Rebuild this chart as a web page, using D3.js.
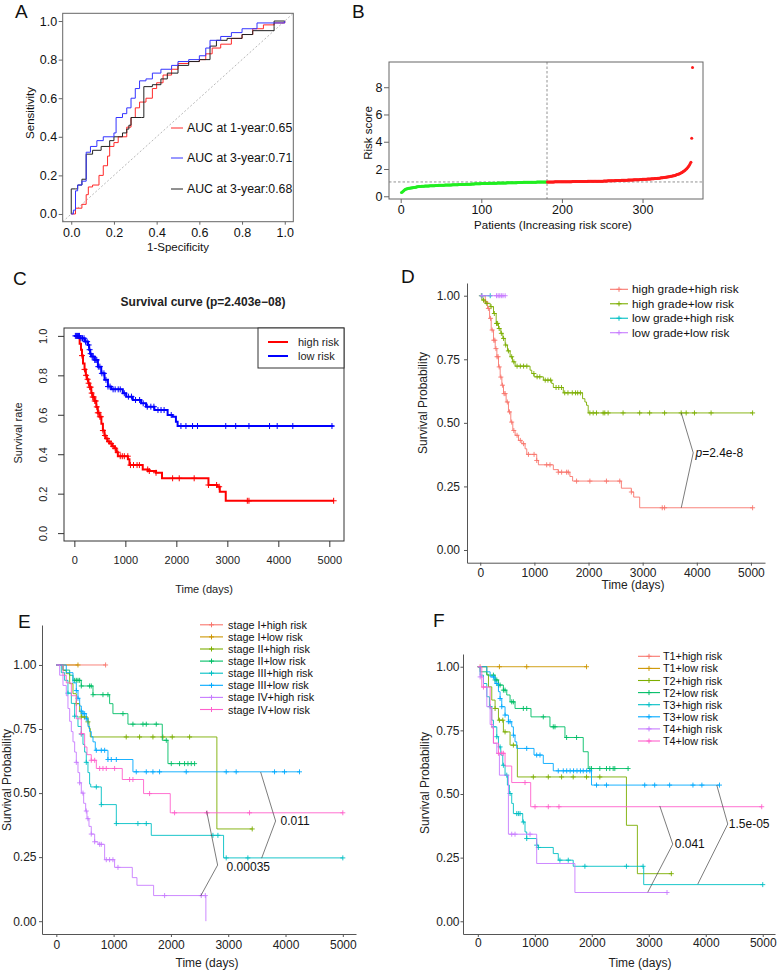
<!DOCTYPE html>
<html><head><meta charset="utf-8">
<script src="https://cdn.jsdelivr.net/npm/d3@7"></script>
<style>body{margin:0;background:#fff}</style>
</head><body><svg id="c" width="778" height="970" style="background:#fff"></svg>
<script>
// ---------------- DATA ----------------
// Panel A: ROC curves [1-specificity, sensitivity]
const rocLabels = ["AUC at 1-year:0.65","AUC at 3-year:0.71","AUC at 3-year:0.68"];
const roc1 = [[0,0],[0.02,0.03],[0.05,0.05],[0.07,0.1],[0.08,0.14],[0.1,0.15],[0.13,0.2],[0.15,0.25],[0.17,0.3],[0.18,0.35],[0.2,0.37],[0.22,0.4],[0.26,0.45],[0.28,0.5],[0.3,0.55],[0.32,0.58],[0.35,0.6],[0.38,0.65],[0.4,0.68],[0.43,0.72],[0.47,0.75],[0.5,0.78],[0.55,0.79],[0.6,0.8],[0.63,0.83],[0.66,0.86],[0.7,0.88],[0.75,0.91],[0.8,0.93],[0.85,0.96],[0.9,0.98],[0.95,0.99],[1,1]];
const roc3 = [[0,0],[0.01,0.02],[0.02,0.12],[0.03,0.15],[0.05,0.17],[0.07,0.18],[0.07,0.32],[0.09,0.35],[0.12,0.38],[0.15,0.4],[0.2,0.42],[0.21,0.5],[0.24,0.52],[0.26,0.55],[0.28,0.6],[0.3,0.65],[0.32,0.69],[0.35,0.7],[0.38,0.73],[0.42,0.75],[0.47,0.77],[0.5,0.79],[0.55,0.8],[0.6,0.82],[0.63,0.86],[0.65,0.9],[0.7,0.92],[0.75,0.94],[0.8,0.96],[0.87,0.99],[1,1]];
const roc3b = [[0,0],[0,0.13],[0.02,0.13],[0.03,0.15],[0.05,0.18],[0.07,0.18],[0.07,0.31],[0.1,0.33],[0.14,0.35],[0.18,0.38],[0.2,0.4],[0.24,0.42],[0.26,0.44],[0.27,0.46],[0.28,0.5],[0.33,0.5],[0.34,0.66],[0.38,0.67],[0.42,0.7],[0.45,0.73],[0.5,0.77],[0.55,0.79],[0.6,0.8],[0.65,0.87],[0.68,0.9],[0.73,0.91],[0.8,0.93],[0.85,0.95],[0.95,0.97],[0.95,1.0],[1,1]];
const rocTicks = [0,0.2,0.4,0.6,0.8,1.0];

// Panel B: sorted risk scores (one per patient)
const riskScores = [
0.27,0.31,0.36,0.42,0.47,0.51,0.53,0.55,0.57,0.58,
0.59,0.60,0.61,0.62,0.63,0.64,0.65,0.66,0.67,0.69,
0.70,0.71,0.71,0.72,0.72,0.73,0.73,0.74,0.74,0.75,
0.75,0.75,0.76,0.76,0.76,0.77,0.77,0.77,0.78,0.78,
0.78,0.78,0.79,0.79,0.79,0.79,0.80,0.80,0.80,0.80,
0.81,0.81,0.81,0.81,0.82,0.82,0.82,0.82,0.82,0.83,
0.83,0.83,0.83,0.84,0.84,0.84,0.84,0.85,0.85,0.85,
0.85,0.86,0.86,0.86,0.86,0.87,0.87,0.87,0.87,0.88,
0.88,0.88,0.88,0.89,0.89,0.89,0.89,0.90,0.90,0.90,
0.90,0.91,0.91,0.91,0.91,0.92,0.92,0.92,0.92,0.93,
0.93,0.93,0.93,0.93,0.94,0.94,0.94,0.94,0.94,0.95,
0.95,0.95,0.95,0.95,0.96,0.96,0.96,0.96,0.96,0.97,
0.97,0.97,0.97,0.97,0.97,0.98,0.98,0.98,0.98,0.98,
0.98,0.99,0.99,0.99,0.99,0.99,0.99,1.00,1.00,1.00,
1.00,1.00,1.00,1.00,1.01,1.01,1.01,1.01,1.01,1.01,
1.01,1.02,1.02,1.02,1.02,1.02,1.02,1.02,1.02,1.03,
1.03,1.03,1.03,1.03,1.03,1.03,1.03,1.03,1.04,1.04,
1.04,1.04,1.04,1.04,1.04,1.04,1.04,1.04,1.04,1.05,1.05,
1.05,1.05,1.05,1.05,1.05,1.05,1.05,1.05,1.05,1.06,
1.06,1.06,1.06,1.06,1.06,1.06,1.06,1.06,1.06,1.06,
1.06,1.07,1.07,1.07,1.07,1.07,1.07,1.07,1.07,1.07,
1.07,1.08,1.08,1.08,1.08,1.08,1.08,1.08,1.08,1.08,
1.08,1.09,1.09,1.09,1.09,1.09,1.09,1.09,1.09,1.09,
1.10,1.10,1.10,1.10,1.10,1.10,1.10,1.10,1.10,1.10,
1.10,1.11,1.11,1.11,1.11,1.11,1.11,1.11,1.11,1.11,
1.12,1.12,1.12,1.12,1.12,1.13,1.13,1.13,1.13,1.13,
1.14,1.14,1.14,1.14,1.15,1.15,1.15,1.15,1.16,1.16,
1.16,1.16,1.17,1.17,1.17,1.17,1.18,1.18,1.18,1.18,
1.19,1.19,1.19,1.20,1.20,1.20,1.20,1.21,1.21,1.21,
1.21,1.22,1.22,1.22,1.22,1.23,1.23,1.23,1.24,1.24,
1.24,1.25,1.25,1.25,1.26,1.26,1.26,1.27,1.27,1.28,
1.28,1.29,1.29,1.30,1.30,1.31,1.31,1.32,1.33,1.33,
1.34,1.35,1.35,1.36,1.37,1.38,1.39,1.40,1.41,1.42,
1.43,1.44,1.45,1.46,1.47,1.48,1.50,1.51,1.53,1.55,
1.57,1.59,1.61,1.63,1.66,1.69,1.72,1.75,1.79,1.83,
1.88,1.93,1.98,2.04,2.11,2.19,2.28,2.38,2.49,
4.25,9.45];
const riskCut = 181; // number of low-risk patients
const riskXTicks = [0,100,200,300];
const riskYTicks = [0,2,4,6,8];

// Panel C: KM [time, survival] steps and censor times
const cHighSteps = [[0,1],[60,0.99],[104,0.96],[130,0.93],[150,0.9],[170,0.86],[200,0.83],[225,0.8],[247,0.78],[275,0.76],[300,0.74],[332,0.71],[360,0.69],[395,0.67],[430,0.64],[460,0.61],[495,0.59],[530,0.555],[560,0.52],[590,0.495],[612,0.48],[650,0.465],[690,0.455],[740,0.44],[788,0.43],[820,0.41],[853,0.39],[1050,0.375],[1081,0.345],[1341,0.323],[1440,0.315],[1602,0.306],[1719,0.278],[2630,0.244],[2806,0.235],[2852,0.21],[2969,0.164],[5085,0.164]];
const cHighCens = [150,200,230,260,280,300,320,340,360,380,400,420,440,460,480,500,520,560,600,640,680,720,760,800,850,900,940,980,1048,1100,1160,1230,1276,1439,1470,1602,1927,2057,2350,2630,2790,2840,3392,3424,5085];
const cLowSteps = [[0,1],[104,0.988],[202,0.971],[267,0.954],[290,0.93],[310,0.91],[332,0.895],[397,0.878],[462,0.844],[527,0.81],[592,0.777],[658,0.743],[723,0.729],[950,0.709],[1016,0.692],[1146,0.675],[1309,0.658],[1406,0.641],[1569,0.624],[1829,0.599],[1927,0.59],[1992,0.565],[2025,0.543],[5085,0.543]];
const cLowCens = [20,40,60,80,100,130,160,190,220,250,280,300,320,350,370,400,420,440,470,500,540,580,620,660,700,760,800,860,900,980,1060,1120,1200,1280,1350,1430,1500,1560,1640,1700,1760,1900,2090,2188,2318,2415,2969,3164,3424,3828,3978,4284,5052];
const cTitle = "Survival curve (p=2.403e\u221208)";
const cLegend = ["high risk","low risk"];
const timeTicks = [0,1000,2000,3000,4000,5000];
const cYTicks = [0,0.2,0.4,0.6,0.8,1.0];
const probTicks = [0,0.25,0.5,0.75,1];

// Panel D
const dNames = ["high grade+high risk","high grade+low risk","low grade+high risk","low grade+low risk"];
const dSteps = [
 [[0,1],[92,0.976],[135,0.95],[172,0.911],[202,0.865],[245,0.825],[276,0.792],[307,0.76],[337,0.72],[368,0.68],[399,0.648],[429,0.615],[478,0.582],[521,0.543],[564,0.503],[601,0.47],[644,0.451],[706,0.431],[767,0.418],[828,0.398],[859,0.376],[1043,0.352],[1074,0.335],[1350,0.316],[1442,0.306],[1656,0.289],[1706,0.271],[2607,0.243],[2791,0.228],[2834,0.208],[2945,0.166],[5031,0.166]],
 [[0,1],[31,0.983],[92,0.97],[184,0.957],[245,0.93],[294,0.891],[337,0.871],[380,0.852],[417,0.832],[460,0.806],[503,0.783],[552,0.76],[595,0.74],[644,0.723],[920,0.707],[951,0.694],[994,0.681],[1166,0.668],[1319,0.655],[1350,0.639],[1534,0.618],[1890,0.595],[1933,0.582],[1963,0.569],[1994,0.539],[5031,0.539]],
 [[0,1],[215,1]],
 [[0,1],[460,1]]
];
const dCens = [
 [100,150,190,220,250,270,290,310,330,350,380,410,440,460,500,540,580,620,680,740,800,890,994,1043,1227,1288,1442,1503,1595,1626,1779,2025,2331,2577,2791,3362,3405,5031],
 [20,60,120,200,260,300,320,350,390,430,470,520,580,620,680,740,800,860,990,1050,1100,1200,1250,1300,1400,1450,1500,1560,1620,1700,1760,1800,1850,2025,2086,2147,2270,2300,2362,2638,2945,3129,3405,3712,3804,3957,4264,5031],
 [30,184],
 [30,300,330,360,390,420,460]
];
const dP = "=2.4e-8";

// Panel E
const eNames = ["stage I+high risk","stage I+low risk","stage II+high risk","stage II+low risk","stage III+high risk","stage III+low risk","stage IV+high risk","stage IV+low risk"];
const eSteps = [
 [[0,1],[860,1]],
 [[0,1],[378,1]],
 [[0,1],[116,0.979],[174,0.966],[233,0.927],[291,0.888],[349,0.849],[407,0.817],[436,0.797],[552,0.778],[570,0.752],[593,0.719],[2802,0.36],[3419,0.36]],
 [[0,1],[116,0.98],[233,0.96],[291,0.94],[436,0.918],[640,0.884],[930,0.849],[988,0.81],[1250,0.769],[1849,0.706],[1948,0.615],[2413,0.615]],
 [[0,1],[87,0.97],[145,0.94],[203,0.89],[262,0.85],[320,0.8],[378,0.76],[436,0.73],[465,0.69],[494,0.66],[523,0.62],[552,0.58],[581,0.535],[600,0.524],[785,0.455],[1047,0.381],[1657,0.335],[2919,0.247],[5000,0.247]],
 [[0,1],[174,0.97],[291,0.93],[349,0.9],[378,0.87],[407,0.84],[436,0.82],[465,0.81],[523,0.79],[552,0.76],[581,0.74],[610,0.72],[640,0.7],[680,0.667],[901,0.631],[1337,0.583],[4244,0.583]],
 [[0,1],[58,0.96],[116,0.92],[174,0.88],[203,0.83],[233,0.78],[262,0.74],[291,0.7],[320,0.66],[349,0.62],[378,0.58],[407,0.54],[436,0.5],[477,0.46],[512,0.43],[535,0.4],[570,0.37],[610,0.34],[669,0.31],[727,0.3],[843,0.24],[1017,0.21],[1326,0.17],[1407,0.14],[1698,0.1],[2610,0]],
 [[0,1],[116,0.96],[174,0.93],[262,0.88],[349,0.79],[436,0.732],[494,0.68],[535,0.65],[610,0.628],[698,0.596],[1151,0.553],[1523,0.498],[1988,0.423],[5000,0.423]]
];
const eCens = [
 [860],
 [378],
 [349,436,494,552,1220,1453,1686,1860,2023,2326,3419],
 [320,349,378,407,436,581,610,640,814,901,1163,1337,1512,1570,1744,1919,2006,2151,2238,2297,2355,2413],
 [203,320,436,523,698,785,1047,1424,1570,2733,2820,2965,3343,5000],
 [349,378,436,465,494,523,698,785,843,901,959,1047,1395,1570,1686,1802,2267,2965,3139,3808,3982,4244],
 [349,407,465,523,552,610,669,756,785,872,930,988,1076,1890,2529,2600],
 [436,610,669,756,814,872,1017,1279,1337,1628,2064,2628,3372,5000]
];
const eP = ["0.011","0.00035"];

// Panel F
const fNames = ["T1+high risk","T1+low risk","T2+high risk","T2+low risk","T3+high risk","T3+low risk","T4+high risk","T4+low risk"];
const fSteps = [
 [[0,1],[60,1]],
 [[0,1],[1908,1]],
 [[0,1],[158,0.97],[187,0.921],[245,0.869],[303,0.836],[362,0.79],[449,0.744],[566,0.692],[694,0.567],[2608,0.377],[2800,0.187],[3396,0.187]],
 [[0,1],[41,0.98],[158,0.967],[303,0.948],[362,0.928],[449,0.908],[508,0.889],[566,0.862],[653,0.836],[933,0.803],[1266,0.764],[1529,0.722],[1850,0.666],[1937,0.6],[2637,0.6]],
 [[0,1],[41,0.967],[99,0.934],[158,0.882],[204,0.843],[245,0.79],[274,0.764],[333,0.725],[362,0.685],[403,0.653],[438,0.613],[478,0.574],[519,0.535],[554,0.502],[595,0.463],[624,0.423],[788,0.39],[828,0.351],[858,0.325],[1033,0.299],[1062,0.29],[1324,0.266],[1412,0.24],[1674,0.216],[2911,0.144],[5000,0.144]],
 [[0,1],[158,0.98],[216,0.96],[303,0.934],[362,0.902],[391,0.875],[420,0.843],[478,0.81],[537,0.784],[595,0.764],[624,0.731],[653,0.705],[683,0.679],[986,0.653],[1149,0.62],[1324,0.591],[1995,0.535],[4241,0.535]],
 [[0,1],[41,0.96],[99,0.921],[158,0.843],[216,0.773],[274,0.699],[333,0.659],[379,0.574],[537,0.342],[1033,0.227],[1704,0.113],[3320,0.113]],
 [[0,1],[70,0.92],[216,0.84],[245,0.76],[274,0.7],[362,0.66],[478,0.61],[595,0.545],[928,0.45],[4982,0.45]]
];
const fCens = [
 [40],
 [379,858,1908],
 [303,379,438,478,624,974,1237,1470,1674,1908,2141,3396],
 [274,303,333,362,391,449,478,595,624,799,858,1149,1324,1354,1558,1733,1966,1995,2141,2258,2316,2375,2404,2637],
 [216,274,333,391,449,508,566,683,712,741,799,858,1033,1062,1441,1587,1879,2608,2900,5000],
 [274,333,391,420,478,537,566,624,858,1033,1091,1412,1500,1560,1620,1680,1740,1800,1850,1910,1966,2083,2258,2929,3104,3366,3775,3932,4241],
 [41,595,653,916,3320],
 [99,362,420,449,828,1004,1237,1424,4982]
];
const fP = ["0.041","1.5e-05"];

const hue4 = ["#F8766D","#7CAE00","#00BFC4","#C77CFF"];
const hue8 = ["#F8766D","#CD9600","#7CAE00","#00BE67","#00BFC4","#00A9FF","#C77CFF","#FF61CC"];

// ---------------- DRAWING ----------------
const FONT = '"Liberation Sans", Arial, Helvetica, sans-serif';
const intFmt = d3.format('d');
const svg = d3.select('#c');
svg.append('rect').attr('width',778).attr('height',970).attr('fill','#fff');

function txt(x,y,s,opt={}) {
  const t = svg.append('text').attr('x',x).attr('y',y).text(s)
    .attr('font-family',FONT).attr('font-size',opt.fs||12).attr('fill',opt.fill||'#111')
    .attr('text-anchor',opt.anchor||'middle').attr('dominant-baseline',opt.base||'central');
  if (opt.rot) t.attr('transform',`rotate(${opt.rot},${x},${y})`);
  if (opt.bold) t.attr('font-weight','bold');
  return t;
}
function styleAxis(g, fs, tc, lc, keepDomain) {
  g.attr('font-family',FONT).attr('font-size',fs);
  g.selectAll('text').attr('fill',tc);
  g.selectAll('line').attr('stroke',lc);
  if (keepDomain) g.select('.domain').attr('stroke',lc); else g.select('.domain').remove();
}
function survAt(steps,t){ let s=steps[0][1]; for(const p of steps){ if(p[0]<=t) s=p[1]; else break; } return s; }
function drawKM(g,x,y,steps,cens,color,lw,ms,mw){
  g.append('path').datum(steps).attr('fill','none').attr('stroke',color).attr('stroke-width',lw)
    .attr('d', d3.line().x(d=>x(d[0])).y(d=>y(d[1])).curve(d3.curveStepAfter));
  const m = g.append('g').attr('stroke',color).attr('stroke-width',mw);
  cens.forEach(t=>{ const cx=x(t), cy=y(survAt(steps,t));
    m.append('path').attr('d',`M${cx-ms},${cy}H${cx+ms}M${cx},${cy-ms}V${cy+ms}`); });
}
function bracket(x,y,pts){
  svg.append('path').datum(pts).attr('fill','none').attr('stroke','#444').attr('stroke-width',0.7)
    .attr('d', d3.line().x(d=>x(d[0])).y(d=>y(d[1])));
}
function ggLegend(names, colors, x0, x1, tx, y0, dy, fs){
  names.forEach((n,i)=>{
    const y = y0 + i*dy;
    svg.append('line').attr('x1',x0).attr('x2',x1).attr('y1',y).attr('y2',y).attr('stroke',colors[i]).attr('stroke-width',1.1);
    const cx=(x0+x1)/2;
    svg.append('path').attr('d',`M${cx-2.5},${y}H${cx+2.5}M${cx},${y-2.5}V${y+2.5}`).attr('stroke',colors[i]).attr('stroke-width',1);
    txt(tx,y,n,{fs:fs,anchor:'start',fill:'#111'});
  });
}

// Panel labels
txt(15,17.5,"A",{fs:19,anchor:'start',base:'auto'});
txt(352,17.5,"B",{fs:19,anchor:'start',base:'auto'});
txt(13,285,"C",{fs:19,anchor:'start',base:'auto'});
txt(401,283,"D",{fs:19,anchor:'start',base:'auto'});
txt(18,628,"E",{fs:19,anchor:'start',base:'auto'});
txt(433,627,"F",{fs:19,anchor:'start',base:'auto'});

// ---- Panel A ----
{
  const x = d3.scaleLinear([-0.04,1.04],[62.7,293.3]);
  const y = d3.scaleLinear([-0.04,1.04],[221.7,13.3]);
  const g = svg.append('g');
  g.append('line').attr('x1',x(-0.04)).attr('y1',y(-0.04)).attr('x2',x(1.04)).attr('y2',y(1.04))
    .attr('stroke','#999').attr('stroke-width',0.7).attr('stroke-dasharray','2,2');
  const line = d3.line().x(d=>x(d[0])).y(d=>y(d[1])).curve(d3.curveStepAfter);
  [[roc1,'#ff2a2a'],[roc3b,'#222'],[roc3,'#3333ff']].forEach(([d,c])=>{
    g.append('path').datum(d).attr('d',line).attr('fill','none').attr('stroke',c).attr('stroke-width',1);
  });
  g.append('rect').attr('x',62.7).attr('y',13.3).attr('width',230.6).attr('height',208.4).attr('fill','none').attr('stroke','#666').attr('stroke-width',1);
  const ax = svg.append('g').attr('transform','translate(0,221.7)')
    .call(d3.axisBottom(x).tickValues(rocTicks).tickFormat(d3.format('.1f')).tickSize(3).tickPadding(3));
  styleAxis(ax,12.5,'#111','#666');
  const ay = svg.append('g').attr('transform','translate(62.7,0)')
    .call(d3.axisLeft(y).tickValues(rocTicks).tickFormat(d3.format('.1f')).tickSize(4).tickPadding(1.5));
  styleAxis(ay,12.5,'#111','#666');
  txt(30,113,"Sensitivity",{fs:11.5,rot:-90});
  txt(178,247,"1-Specificity",{fs:11.5});
  const cols = ['#ff2a2a','#3333ff','#222'];
  [128,158,189].forEach((yy,i)=>{
    svg.append('line').attr('x1',171).attr('x2',183).attr('y1',yy).attr('y2',yy).attr('stroke',cols[i]).attr('stroke-width',1);
    txt(187,yy,rocLabels[i],{fs:12.3,anchor:'start'});
  });
}

// ---- Panel B ----
{
  const x = d3.scaleLinear([-14.5,375],[389,703]);
  const y = d3.scaleLinear([-0.2,9.85],[199,62]);
  const med = (riskScores[riskCut-1]+riskScores[riskCut])/2;
  svg.append('line').attr('x1',389).attr('x2',703).attr('y1',y(med)).attr('y2',y(med)).attr('stroke','#777').attr('stroke-width',0.8).attr('stroke-dasharray','2.5,2');
  svg.append('line').attr('x1',x(riskCut+0.5)).attr('x2',x(riskCut+0.5)).attr('y1',62).attr('y2',199).attr('stroke','#777').attr('stroke-width',0.8).attr('stroke-dasharray','2.5,2');
  svg.append('g').selectAll('circle').data(riskScores).join('circle')
    .attr('cx',(d,i)=>x(i+1)).attr('cy',d=>y(d)).attr('r',1.5)
    .attr('fill',(d,i)=> i<riskCut ? '#22ee22' : '#ff1a1a');
  svg.append('rect').attr('x',389).attr('y',62).attr('width',314).attr('height',137).attr('fill','none').attr('stroke','#666');
  const ax = svg.append('g').attr('transform','translate(0,199)')
    .call(d3.axisBottom(x).tickValues(riskXTicks).tickSize(4).tickPadding(2));
  styleAxis(ax,12.5,'#111','#666');
  const ay = svg.append('g').attr('transform','translate(389,0)')
    .call(d3.axisLeft(y).tickValues(riskYTicks).tickSize(5).tickPadding(1.5));
  styleAxis(ay,12.5,'#111','#666');
  txt(368,133,"Risk score",{fs:11.5,rot:-90});
  txt(553,225,"Patients (Increasing risk score)",{fs:11.5});
}

// ---- Panel C ----
{
  const x = d3.scaleLinear([-203,5288],[64,344]);
  const y = d3.scaleLinear([-0.04,1.04],[541,328]);
  const g = svg.append('g');
  drawKM(g,x,y,cHighSteps,cHighCens,'#ff0000',2,3,1);
  drawKM(g,x,y,cLowSteps,cLowCens,'#0000ff',2,3,1);
  svg.append('rect').attr('x',64).attr('y',328).attr('width',280).attr('height',213).attr('fill','none').attr('stroke','#333');
  const ax = svg.append('g').attr('transform','translate(0,541)')
    .call(d3.axisBottom(x).tickValues(timeTicks).tickFormat(intFmt).tickSize(6).tickPadding(9));
  styleAxis(ax,11,'#222','#333');
  const ay = svg.append('g').attr('transform','translate(64,0)')
    .call(d3.axisLeft(y).tickValues(cYTicks).tickFormat(d3.format('.1f')).tickSize(6));
  styleAxis(ay,11,'#222','#333');
  ay.selectAll('text').attr('x',0).attr('y',-21).attr('dy','0.35em').attr('text-anchor','middle').attr('transform','rotate(-90)');
  txt(18,433,"Survival rate",{fs:11,rot:-90,fill:'#222'});
  txt(204,589,"Time (days)",{fs:11,fill:'#222'});
  txt(203,302,cTitle,{fs:12,bold:true,fill:'#222'});
  svg.append('rect').attr('x',258).attr('y',328).attr('width',86).attr('height',40).attr('fill','#fff').attr('stroke','#333');
  [['#ff0000',342],['#0000ff',356]].forEach(([c,yy],i)=>{
    svg.append('line').attr('x1',268).attr('x2',288).attr('y1',yy).attr('y2',yy).attr('stroke',c).attr('stroke-width',2);
    txt(298,yy,cLegend[i],{fs:11,anchor:'start',fill:'#222'});
  });
}

// ---- Panel D ----
{
  const x = d3.scaleLinear([-245,5260],[467,765]);
  const y = d3.scaleLinear([-0.05,1.05],[562.7,283]);
  const g = svg.append('g');
  [0,1,2,3].forEach(i=> drawKM(g,x,y,dSteps[i],dCens[i],hue4[i],0.9,2.5,0.9));
  const ax = svg.append('g').attr('transform','translate(0,562.7)')
    .call(d3.axisBottom(x).tickValues(timeTicks).tickFormat(intFmt).tickSize(3).tickSizeOuter(0).tickPadding(2.5));
  styleAxis(ax,12,'#222','#555',true);
  const ay = svg.append('g').attr('transform','translate(467,0)')
    .call(d3.axisLeft(y).tickValues(probTicks).tickFormat(d3.format('.2f')).tickSize(3).tickSizeOuter(0).tickPadding(4));
  styleAxis(ay,12,'#222','#555',true);
  txt(423,403,"Survival Probability",{fs:12,rot:-90,fill:'#222'});
  txt(633,585,"Time (days)",{fs:12,fill:'#222'});
  ggLegend(dNames,hue4,610,628,632,289.3,14.47,11.8);
  bracket(x,y,[[3713,0.539],[3934,0.382],[3713,0.166]]);
  const t = svg.append('text').attr('x',x(3975)).attr('y',y(0.382)).attr('font-family',FONT).attr('font-size',12).attr('fill','#111').attr('dominant-baseline','central');
  t.append('tspan').attr('font-style','italic').text('p');
  t.append('tspan').text(dP);
}

// ---- Panel E ----
{
  const x = d3.scaleLinear([-250,5230],[42,356]);
  const y = d3.scaleLinear([-0.05,1.156],[934,625]);
  const g = svg.append('g');
  d3.range(8).forEach(i=> drawKM(g,x,y,eSteps[i],eCens[i],hue8[i],0.9,2.5,0.9));
  const ax = svg.append('g').attr('transform','translate(0,934)')
    .call(d3.axisBottom(x).tickValues(timeTicks).tickFormat(intFmt).tickSize(3).tickSizeOuter(0).tickPadding(3.5));
  styleAxis(ax,12,'#222','#555',true);
  const ay = svg.append('g').attr('transform','translate(42,0)')
    .call(d3.axisLeft(y).tickValues(probTicks).tickFormat(d3.format('.2f')).tickSize(3).tickSizeOuter(0).tickPadding(2.5));
  styleAxis(ay,12,'#222','#555',true);
  txt(7,780,"Survival Probability",{fs:12,rot:-90,fill:'#222'});
  txt(207,963,"Time (days)",{fs:12,fill:'#222'});
  ggLegend(eNames,hue8,200,223,228,624.8,12.1,10.8);
  bracket(x,y,[[3566,0.582],[3827,0.391],[3583,0.246]]);
  txt(x(3914),y(0.391),eP[0],{fs:12,anchor:'start'});
  bracket(x,y,[[2623,0.43],[2815,0.219],[2518,0.098]]);
  txt(x(2972),y(0.211),eP[1],{fs:12,anchor:'start'});
}

// ---- Panel F ----
{
  const x = d3.scaleLinear([-260,5215],[463,775]);
  const y = d3.scaleLinear([-0.05,1.05],[934,654]);
  const g = svg.append('g');
  d3.range(8).forEach(i=> drawKM(g,x,y,fSteps[i],fCens[i],hue8[i],0.9,2.5,0.9));
  const ax = svg.append('g').attr('transform','translate(0,934)')
    .call(d3.axisBottom(x).tickValues(timeTicks).tickFormat(intFmt).tickSize(3).tickSizeOuter(0).tickPadding(1.5));
  styleAxis(ax,12,'#222','#555',true);
  const ay = svg.append('g').attr('transform','translate(463,0)')
    .call(d3.axisLeft(y).tickValues(probTicks).tickFormat(d3.format('.2f')).tickSize(2.5).tickSizeOuter(0).tickPadding(1));
  styleAxis(ay,12,'#222','#555',true);
  txt(425,783,"Survival Probability",{fs:12,rot:-90,fill:'#222'});
  txt(640,963,"Time (days)",{fs:12,fill:'#222'});
  ggLegend(fNames,hue8,638,660,663,656.3,12.1,10.8);
  bracket(x,y,[[3193,0.453],[3421,0.303],[2982,0.114]]);
  txt(x(3456),y(0.303),fP[0],{fs:12,anchor:'start'});
  bracket(x,y,[[4193,0.535],[4386,0.382],[3860,0.146]]);
  txt(x(4404),y(0.382),fP[1],{fs:12,anchor:'start'});
}
</script></body></html>
